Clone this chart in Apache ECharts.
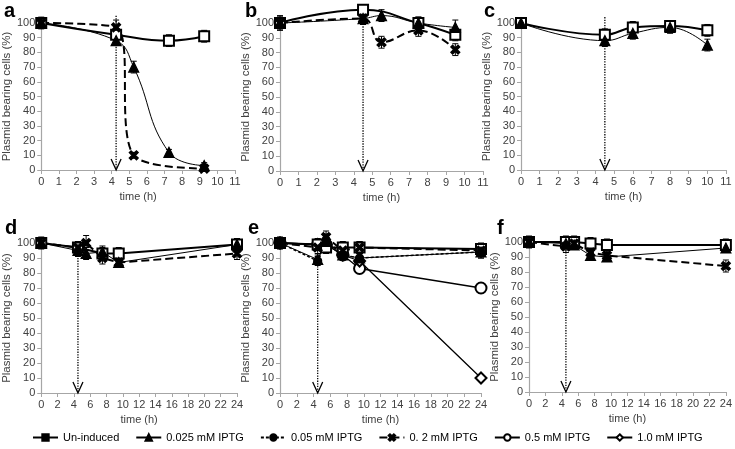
<!DOCTYPE html>
<html><head><meta charset="utf-8">
<script src="https://cdn.jsdelivr.net/npm/echarts@6/dist/echarts.min.js"></script>
<style>html,body{margin:0;padding:0;background:#fff}#c{width:735px;height:449px}</style>
</head><body><div id="c"></div>
<script>
// ---------- data ----------
const seriesNames = ['Un-induced','0.025 mM IPTG','0.05 mM IPTG','0. 2 mM IPTG','0.5 mM IPTG','1.0 mM IPTG'];
const panelLetters = ['a','b','c','d','e','f'];
const inductionTime = [4.25,4.5,4.5,4.5,4.5,4.5];
const arrowTop = [105,103,104,90,88,95];
const xTicksTop = [0,1,2,3,4,5,6,7,8,9,10,11];
const xTicksBottom = [0,2,4,6,8,10,12,14,16,18,20,22,24];

// panel a
const aTime = [0,4.25,5.25,7.25,9.25];
const aUninduced = [100,92,null,88,91];
const aUninducedErr = [4,4,null,4,4];
const a0025 = [100,88,70,12,3];
const a0025Err = [3,3,4,2,2];
const a02 = [100,97,10,null,1];
const a02Err = [3,5,2,null,2];
// panel b
const bTime = [0,4.5,5.5,7.5,9.5];
const bUninduced = [100,109,null,100,92];
const bUninducedErr = [4,3,null,4,4];
const b0025 = [100,103,105,100,97];
const b0025Err = [5,4,4,4,5];
const b02 = [100,103,87,95,82];
const b02Err = [4,4,4,4,4];
// panel c
const cTime = [0,4.5,6,8,10];
const cUninduced = [100,92,97,98,95];
const cUninducedErr = [3,4,4,3,4];
const c0025 = [100,88,93,97,85];
const c0025Err = [3,4,4,4,4];
// panel d
const dTime = [0,4.5,5.5,7.5,9.5,24];
const dUninduced = [100,97,null,93,93,99];
const dUninducedErr = [4,4,null,4,4,4];
const d0025 = [100,95,93,94,87,99];
const d0025Err = [3,4,4,4,3,4];
const d02 = [100,97,100,90,87,93];
const d02Err = [3,4,5,4,3,4];
// panel e
const eTime = [0,4.5,5.5,7.5,9.5,24];
const eUninduced = [100,99,97,97,97,96];
const eUninducedErr = [4,4,4,4,4,4];
const e0025 = [100,89,101,92,90,94];
const e0025Err = [3,3,4,3,3,4];
const e005 = [100,88,102,92,90,94];
const e005Err = [3,3,4,3,3,4];
const e02 = [100,97,104,95,97,95];
const e02Err = [3,4,4,4,4,4];
const e05 = [100,99,99,92,83,70];
const e05Err = [null,null,null,null,null,null];
const e10 = [100,99,99,92,88,10];
const e10Err = [null,null,null,null,null,null];
// panel f
const fTime = [0,4.5,5.5,7.5,9.5,24];
const fUninduced = [100,100,100,99,98,98];
const fUninducedErr = [4,4,4,4,4,4];
const f0025 = [100,99,98,91,90,96];
const f0025Err = [3,3,3,3,3,3];
const f02 = [100,97,99,93,91,84];
const f02Err = [3,4,4,3,3,4];

// ---------- structure ----------
const panels = [
  {time:aTime, smooth:true, top:true, lines:[[0,aUninduced,aUninducedErr],[1,a0025,a0025Err],[3,a02,a02Err]]},
  {time:bTime, smooth:true, top:true, lines:[[0,bUninduced,bUninducedErr],[1,b0025,b0025Err],[3,b02,b02Err]]},
  {time:cTime, smooth:true, top:true, lines:[[0,cUninduced,cUninducedErr],[1,c0025,c0025Err]]},
  {time:dTime, smooth:false, top:false, lines:[[0,dUninduced,dUninducedErr],[1,d0025,d0025Err],[3,d02,d02Err]]},
  {time:eTime, smooth:false, top:false, lines:[[4,e05,e05Err],[5,e10,e10Err],[0,eUninduced,eUninducedErr],[1,e0025,e0025Err],[2,e005,e005Err],[3,e02,e02Err]]},
  {time:fTime, smooth:false, top:false, lines:[[0,fUninduced,fUninducedErr],[1,f0025,f0025Err],[3,f02,f02Err]]}
];
const grids = [
  {left:39, top:23, width:196, height:147},
  {left:280, top:23, width:203, height:148},
  {left:521, top:23, width:205, height:147},
  {left:37, top:243, width:200, height:150},
  {left:280, top:243, width:201, height:150},
  {left:529, top:242, width:198, height:150}
];
const letterPos = [[4,1],[245,1],[484,1],[5,218],[248,218],[497,218]];

const xPath = 'path://M0,2L2,0L5,3L8,0L10,2L7,5L10,8L8,10L5,7L2,10L0,8L3,5Z';
const styles = [
  {symbol:'emptyRect', legendSymbol:'rect', size:10, width:2, type:'solid'},
  {symbol:'triangle', size:10, width:1, type:'solid'},
  {symbol:'circle', size:8, width:1.5, type:[3,2]},
  {symbol:xPath, size:9, width:2, type:[8,4]},
  {symbol:'emptyCircle', size:11, width:1.3, type:'solid'},
  {symbol:'emptyDiamond', size:11, width:1.3, type:'solid'}
];

const axisColor = '#a6a6a6';
const textColor = '#404040';
const font = 'Liberation Sans, Arial, sans-serif';

const xAxes = [], yAxes = [], series = [], graphics = [];

function renderErr(params, api){
  const x = api.value(0), lo = api.value(1), hi = api.value(2);
  const p1 = api.coord([x,lo]), p2 = api.coord([x,hi]);
  const w = 3, st = {stroke:'#000', lineWidth:1};
  return {type:'group', children:[
    {type:'line', shape:{x1:p1[0],y1:p1[1],x2:p2[0],y2:p2[1]}, style:st},
    {type:'line', shape:{x1:p1[0]-w,y1:p1[1],x2:p1[0]+w,y2:p1[1]}, style:st},
    {type:'line', shape:{x1:p2[0]-w,y1:p2[1],x2:p2[0]+w,y2:p2[1]}, style:st}
  ]};
}
function renderArrow(params, api){
  const x = api.value(0), t = api.value(1);
  const p1 = api.coord([x,t]), p2 = api.coord([x,0]);
  return {type:'group', children:[
    {type:'line', shape:{x1:p1[0],y1:p1[1],x2:p2[0],y2:p2[1]-1}, style:{stroke:'#000', lineWidth:1.3, lineDash:[1.3,1.3]}},
    {type:'polyline', shape:{points:[[p2[0]-5,p2[1]-11],[p2[0],p2[1]],[p2[0]+5,p2[1]-11]]}, style:{stroke:'#000', lineWidth:1.3, fill:null}}
  ]};
}

// legend-only series (first with each name, so the legend takes its icon)
styles.forEach((st, si) => {
  series.push({type:'line', name:seriesNames[si], xAxisIndex:0, yAxisIndex:0, data:[],
    symbol:st.legendSymbol || st.symbol, symbolSize:st.size,
    lineStyle:{color:'#000', width:st.width, type:st.type},
    itemStyle:{color:'#000', borderColor:'#000', borderWidth:1.2}});
});

panels.forEach((p, k) => {
  const ticks = p.top ? xTicksTop : xTicksBottom;
  xAxes.push({
    gridIndex:k, type:'value', min:ticks[0], max:ticks[ticks.length-1], interval:ticks[1]-ticks[0],
    name:'time (h)', nameLocation:'middle', nameGap:21,
    nameTextStyle:{fontSize:11, color:textColor, fontFamily:font},
    axisLine:{lineStyle:{color:axisColor, width:1.2}},
    axisTick:{show:true, length:4, lineStyle:{color:axisColor}},
    axisLabel:{fontSize:11, color:textColor, fontFamily:font, margin:6},
    splitLine:{show:false}
  });
  yAxes.push({
    gridIndex:k, type:'value', min:0, max:100, interval:10,
    name:'Plasmid bearing cells (%)', nameLocation:'middle', nameGap:21,
    nameTextStyle:{fontSize:11.5, color:textColor, fontFamily:font},
    axisLine:{show:true, lineStyle:{color:axisColor, width:1.2}},
    axisTick:{show:true, length:4, lineStyle:{color:axisColor}},
    axisLabel:{fontSize:11, color:textColor, fontFamily:font, margin:6},
    splitLine:{show:false}
  });
  series.push({type:'custom', xAxisIndex:k, yAxisIndex:k, clip:false, silent:true, z:1,
    renderItem:renderArrow, encode:{x:0,y:1}, data:[[inductionTime[k], arrowTop[k]]]});
  p.lines.forEach(([si, vals, errs]) => {
    const st = styles[si];
    const pts = [];
    const eb = [];
    p.time.forEach((t,i) => {
      if (vals[i] != null) pts.push([t, vals[i]]);
      if (vals[i] != null && errs[i] != null) eb.push([t, vals[i]-errs[i], vals[i]+errs[i]]);
    });
    if (eb.length) series.push({type:'custom', xAxisIndex:k, yAxisIndex:k, clip:false, silent:true, z:2,
      renderItem:renderErr, encode:{x:0,y:[1,2]}, data:eb});
    series.push({
      type:'line', name:seriesNames[si], xAxisIndex:k, yAxisIndex:k, data:pts,
      smooth:p.smooth ? 0.45 : false, clip:false, z:3,
      symbol:st.symbol, symbolSize:st.size,
      lineStyle:{color:'#000', width:st.width, type:st.type},
      itemStyle:{color:'#000', borderColor:'#000', borderWidth:1.2},
      emphasis:{disabled:true}
    });
  });
  graphics.push({type:'text', left:letterPos[k][0], top:letterPos[k][1],
    style:{text:panelLetters[k], font:'bold 20px Liberation Sans, Arial, sans-serif', fill:'#000'}});
});

const chart = echarts.init(document.getElementById('c'), null, {renderer:'canvas'});
chart.setOption({
  animation:false,
  backgroundColor:'#fff',
  grid:grids,
  xAxis:xAxes,
  yAxis:yAxes,
  legend:{
    data:seriesNames,
    left:27, top:427, width:720, itemWidth:25, itemHeight:8, itemGap:16,
    textStyle:{fontSize:11, color:'#000', fontFamily:font},
    selectedMode:false
  },
  graphic:graphics,
  series:series
});
</script>
</body></html>
